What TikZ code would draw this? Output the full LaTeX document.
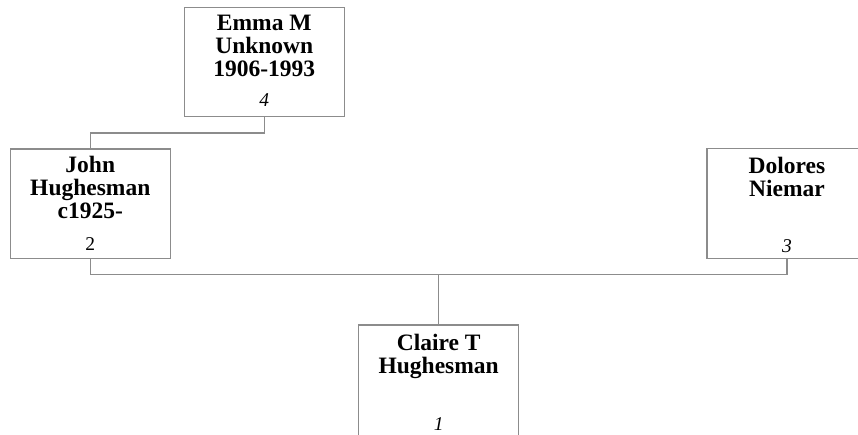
\documentclass[tikz,border=0pt]{standalone}
\usepackage{fontspec}
\setmainfont{Liberation Serif}
\definecolor{linegray}{RGB}{140,140,140}
\begin{document}
\begin{tikzpicture}[x=1pt,y=-1pt,
  person/.style={draw=linegray, line width=1.2pt, minimum width=160pt, minimum height=109.5pt, inner sep=0pt},
  nametext/.style={anchor=north, align=center, inner sep=0pt, font=\fontsize{23.5}{23}\selectfont\bfseries},
  numtext/.style={anchor=base, inner sep=0pt, font=\fontsize{19.5}{20}\selectfont\itshape},
  link/.style={draw=linegray, line width=1.2pt}]
\useasboundingbox (0,0) rectangle (858,434);
\clip (0,0) rectangle (858,434);
% boxes
\node[person] (emma) at (264.3,62) {};
\node[person] (john) at (90.3,203.8) {};
\node[person] (dolores) at (787,203.5) {};
\node[person, minimum height=116pt] (claire) at (438.7,383) {};
% names
\node[nametext] (emmaname) at (264.3,14.7) {Emma M\\Unknown\\1906-1993};
\node[nametext] (johnname) at (90.3,155.9) {John\\Hughesman\\c1925-};
\node[nametext] (dolname) at (787,157.3) {Dolores\\Niemar};
\node[nametext] (clairename) at (438.7,334) {Claire T\\Hughesman};
% numbers
\node[numtext] (emmanum) at (264.3,106.7) {4};
\node[numtext, font=\fontsize{19.5}{20}\selectfont\upshape] (johnnum) at (90.3,250) {2};
\node[numtext] (dolnum) at (787,252.7) {3};
\node[numtext] (clairenum) at (438.7,430) {1};
% connectors
\coordinate (pm) at (90.3,133);
\coordinate (fam) at (438.7,274.5);
\draw[link] (emma.south) |- (pm) -- (john.north);
\draw[link] (john.south) |- (fam) -| (dolores.south);
\draw[link] (fam) -- (claire.north);
\end{tikzpicture}
\end{document}
